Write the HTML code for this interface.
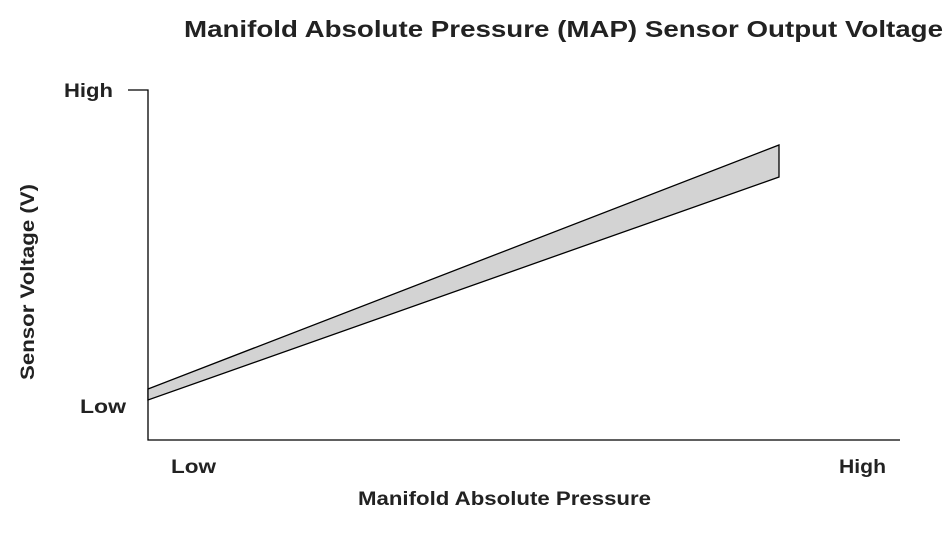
<!DOCTYPE html>
<html><head><style>body{margin:0;background:#fff}svg{display:block}text{font-family:"Liberation Sans",Arial,sans-serif;font-weight:bold;fill:#222}</style></head>
<body><svg width="950" height="536" viewBox="0 0 950 536">
<text x="184" y="37" font-size="23" textLength="759" lengthAdjust="spacingAndGlyphs">Manifold Absolute Pressure (MAP) Sensor Output Voltage</text>
<polyline points="128,90 148,90 148,440 900,440" fill="none" stroke="#000" stroke-width="1.3"/>
<polygon points="148,389 779,145 779,177 148,400" fill="#d3d3d3" stroke="#000" stroke-width="1.3"/>
<text x="64" y="97" font-size="19" textLength="49" lengthAdjust="spacingAndGlyphs">High</text>
<text x="80" y="413" font-size="19" textLength="46" lengthAdjust="spacingAndGlyphs">Low</text>
<text x="171" y="473" font-size="19" textLength="45" lengthAdjust="spacingAndGlyphs">Low</text>
<text x="839" y="473" font-size="19" textLength="47" lengthAdjust="spacingAndGlyphs">High</text>
<text x="358" y="505" font-size="19" textLength="293" lengthAdjust="spacingAndGlyphs">Manifold Absolute Pressure</text>
<text transform="translate(34,380) rotate(-90)" font-size="19" textLength="196" lengthAdjust="spacingAndGlyphs">Sensor Voltage (V)</text>
</svg></body></html>
